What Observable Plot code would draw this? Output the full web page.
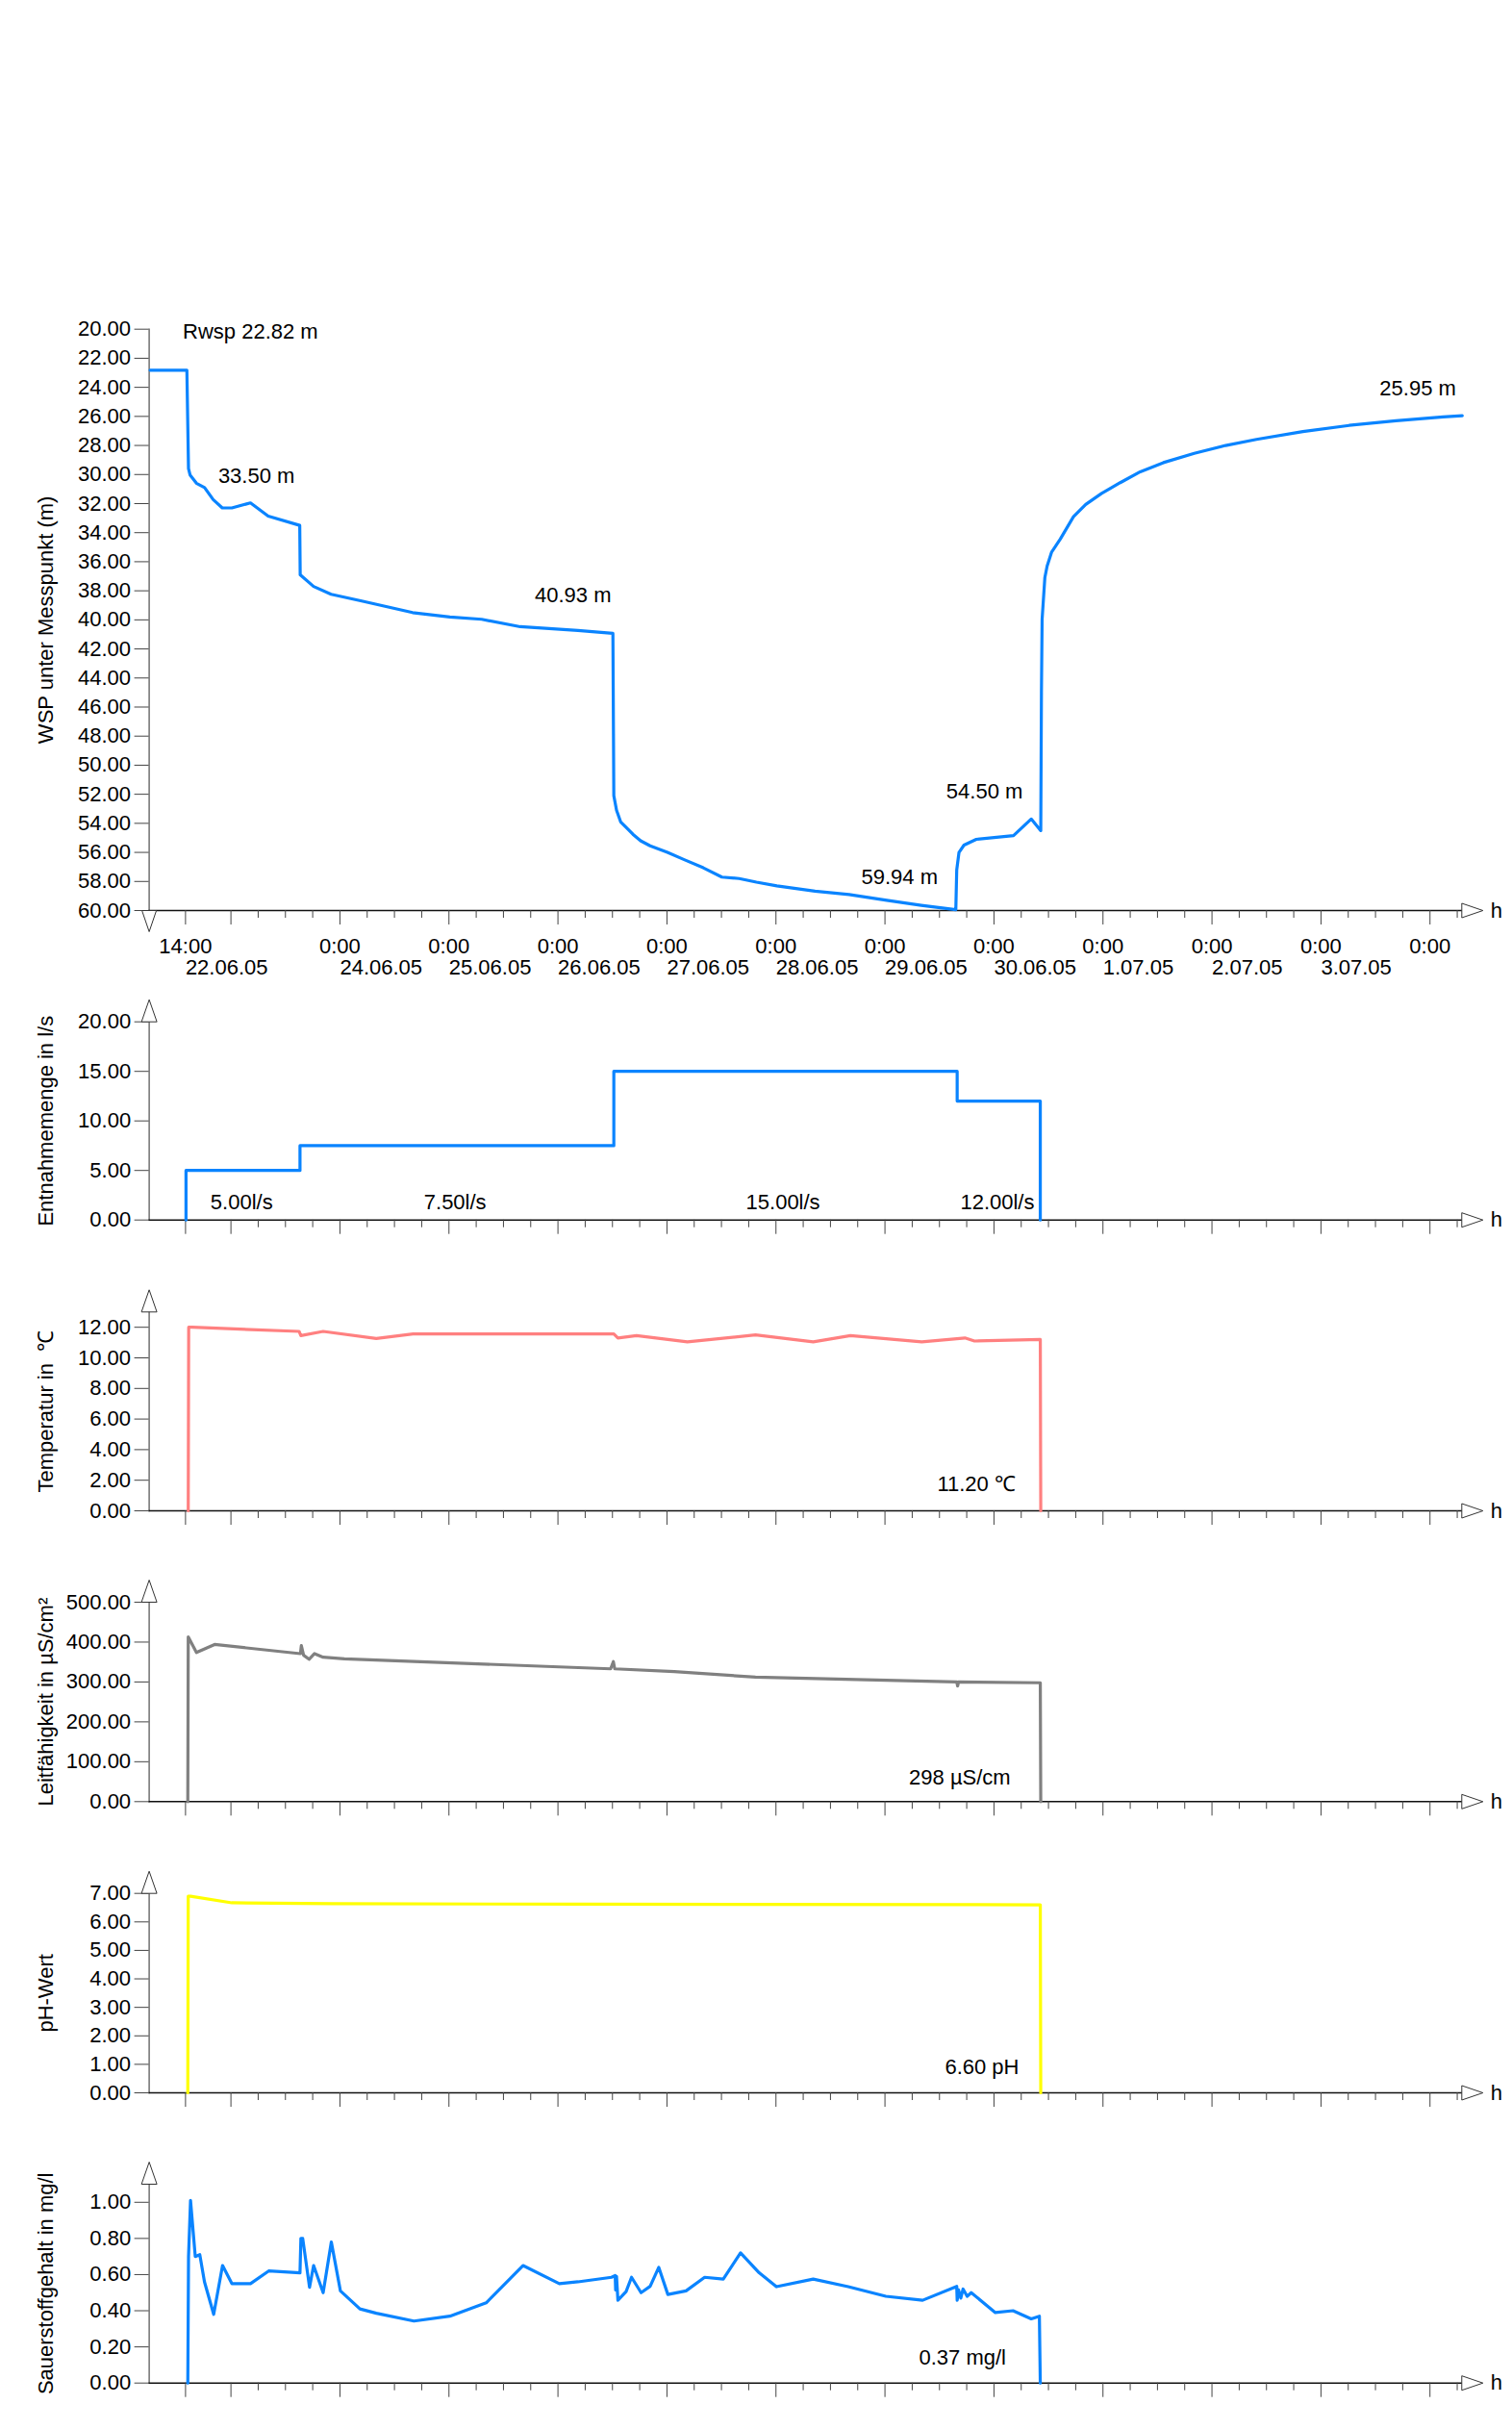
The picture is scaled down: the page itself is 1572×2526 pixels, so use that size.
<!DOCTYPE html>
<html><head><meta charset="utf-8">
<script src="https://cdn.jsdelivr.net/npm/d3@7"></script>
<script src="https://cdn.jsdelivr.net/npm/@observablehq/plot@0.6"></script>
<style>
body{margin:0;background:#fff}
#root{position:relative;width:1572px;height:2526px;background:#fff}
</style>
</head><body><div id="root"></div>
<script>
// ---- Data (time in hours since 22.06.05 00:00) ----
const wspT = [6.2, 14.3, 14.66, 15.0, 16.4, 18.2, 20.1, 22.1, 24.2, 28.3, 32.2, 39.15, 39.25, 42.2, 46.05, 52.8, 64.0, 72.2, 79.2, 87.7, 100.4, 108.1, 108.3, 108.9, 109.8, 111.4, 112.5, 114.2, 116.3, 120.1, 123.8, 128.0, 132.1, 135.9, 139.7, 144.2, 152.6, 160.1, 168.4, 176.0, 183.6, 183.8, 184.3, 185.4, 188.1, 196.3, 200.2, 202.3, 202.45, 202.6, 203.2, 203.7, 204.7, 206.6, 209.5, 212.2, 215.7, 219.8, 224.2, 229.3, 236.1, 243.0, 249.8, 260.0, 270.2, 280.5, 290.9, 295.1];
const wspV = [22.82, 22.82, 29.6, 30.03, 30.6, 30.9, 31.73, 32.3, 32.3, 31.95, 32.86, 33.5, 36.9, 37.7, 38.24, 38.7, 39.5, 39.8, 39.96, 40.47, 40.73, 40.93, 52.1, 53.1, 53.9, 54.4, 54.75, 55.2, 55.55, 56.0, 56.5, 57.06, 57.7, 57.8, 58.05, 58.3, 58.67, 58.9, 59.3, 59.64, 59.94, 57.2, 56.0, 55.5, 55.1, 54.85, 53.7, 54.5, 45.0, 39.96, 37.1, 36.3, 35.33, 34.44, 32.9, 32.06, 31.3, 30.56, 29.81, 29.18, 28.54, 28.0, 27.58, 27.04, 26.62, 26.3, 26.03, 25.95];

const flowT = [14.1, 14.1, 39.2, 108.3, 183.9, 202.2];
const flowV = [0, 5, 7.5, 15, 12, 0];

const tempT = [14.6, 14.7, 15.5, 39.0, 39.4, 44.3, 56.0, 64.1, 108.3, 109.2, 113.3, 124.5, 139.5, 152.2, 160.4, 176.1, 185.6, 187.7, 202.2, 202.3];
const tempV = [0, 12.0, 12.0, 11.73, 11.45, 11.73, 11.27, 11.56, 11.56, 11.3, 11.45, 11.05, 11.5, 11.05, 11.45, 11.05, 11.3, 11.1, 11.2, 0];

const condT = [14.5, 14.6, 16.4, 20.4, 39.3, 39.5, 40.0, 41.2, 42.4, 44.3, 49.0, 107.6, 108.2, 108.5, 121.6, 139.5, 183.8, 184.0, 184.2, 202.2, 202.3];
const condV = [0, 413, 374, 394, 371, 391, 367, 357, 371, 362, 358, 333, 351, 333, 326, 312, 300, 290, 300, 298, 0];

const phT = [14.5, 14.6, 15.1, 24.2, 46.3, 100.4, 202.2, 202.3];
const phV = [0, 6.9, 6.9, 6.67, 6.64, 6.62, 6.6, 0];

const oxyT = [14.5, 14.66, 15.1, 16.14, 17.14, 18.17, 20.2, 22.15, 24.2, 28.3, 32.3, 39.2, 39.4, 39.8, 41.3, 42.2, 44.3, 46.1, 48.1, 52.4, 56.0, 64.3, 72.2, 80.2, 88.3, 96.3, 100.4, 107.8, 108.6, 108.7, 108.9, 109.2, 111.0, 112.2, 114.3, 116.3, 118.2, 120.2, 124.2, 128.3, 132.4, 136.2, 140.3, 144.1, 152.2, 159.9, 168.2, 176.3, 183.8, 183.9, 184.2, 184.7, 185.2, 186.1, 187.0, 192.3, 196.2, 200.2, 202.0, 202.2];
const oxyV = [0, 0.70, 1.01, 0.70, 0.71, 0.56, 0.38, 0.65, 0.55, 0.55, 0.62, 0.61, 0.80, 0.80, 0.53, 0.65, 0.50, 0.78, 0.51, 0.41, 0.386, 0.343, 0.37, 0.444, 0.65, 0.55, 0.56, 0.585, 0.595, 0.515, 0.59, 0.458, 0.506, 0.585, 0.50, 0.535, 0.64, 0.49, 0.51, 0.585, 0.575, 0.72, 0.61, 0.533, 0.575, 0.533, 0.48, 0.458, 0.535, 0.458, 0.515, 0.47, 0.52, 0.48, 0.50, 0.39, 0.40, 0.355, 0.37, 0];

// annotations
const wspNoteText = ["Rwsp 22.82 m", "33.50 m", "40.93 m", "59.94 m", "54.50 m", "25.95 m"];
const wspNoteT = [13.4, 21.2, 90.9, 162.8, 181.5, 276.9];
const wspNoteV = [20.15, 30.08, 38.29, 57.72, 51.81, 24.12];
const flowNoteText = ["5.00l/s", "7.50l/s", "15.00l/s", "12.00l/s"];
const flowNoteT = [19.5, 66.5, 137.4, 184.6];
const flowNoteV = [1.8, 1.8, 1.8, 1.8];
const tempNoteText = ["11.20 \u2103"]; const tempNoteT = [179.5]; const tempNoteV = [1.72];
const condNoteText = ["298 \u00b5S/cm"]; const condNoteT = [173.3]; const condNoteV = [61];
const phNoteText = ["6.60 pH"]; const phNoteT = [181.2]; const phNoteV = [0.88];
const oxyNoteText = ["0.37 mg/l"]; const oxyNoteT = [175.5]; const oxyNoteV = [0.142];

// x tick labels
const xLabelHours = [14, 48, 72, 96, 120, 144, 168, 192, 216, 240, 264, 288];
const xTimeLabels = ["14:00", "0:00", "0:00", "0:00", "0:00", "0:00", "0:00", "0:00", "0:00", "0:00", "0:00", "0:00"];
const xDateLabels = ["22.06.05", "24.06.05", "25.06.05", "26.06.05", "27.06.05", "28.06.05", "29.06.05", "30.06.05", "1.07.05", "2.07.05", "3.07.05", ""];
const xLongTicks = [14].concat(d3.range(24, 289, 24));
const xShortTicks = d3.range(30, 295, 6).filter(h => h % 24 !== 0);

// y ticks
const wspTicks = d3.range(20, 61, 2);
const flowTicks = [0, 5, 10, 15, 20];
const tempTicks = [0, 2, 4, 6, 8, 10, 12];
const condTicks = [0, 100, 200, 300, 400, 500];
const phTicks = [0, 1, 2, 3, 4, 5, 6, 7];
const oxyTicks = [0, 0.2, 0.4, 0.6, 0.8, 1.0];

const X0 = 6, X1 = 295;
const FONT = '"Liberation Sans", Arial, Helvetica, sans-serif';

const rows = (T, V) => T.map((t, i) => ({t, v: V[i]}));
const notes = (L, T, V) => L.map((label, i) => ({label, t: T[i], v: V[i]}));

const arrowUp = {draw(c){c.moveTo(-8,0);c.lineTo(0,-23);c.lineTo(8,0);c.closePath();}};
const arrowDown = {draw(c){c.moveTo(-7.5,0);c.lineTo(0,22);c.lineTo(7.5,0);c.closePath();}};
const arrowRight = {draw(c){c.moveTo(0,-7.5);c.lineTo(22,0);c.lineTo(0,7.5);c.closePath();}};

function panel(cfg) {
  const {top, mt, fh, mb, domain, reverse = false, ticks, label, series, color, curve = "linear", note, xLabels = false} = cfg;
  const yBottom = reverse ? domain[1] : domain[0];
  const yTop = reverse ? domain[0] : domain[1];
  const marks = [
    Plot.frame({anchor: "left", stroke: "#707070", strokeWidth: 1.5}),
    Plot.frame({anchor: "bottom", stroke: "#111", strokeWidth: 1.5}),
    Plot.axisY({ticks, tickSize: 15, tickPadding: 4, tickFormat: d => d.toFixed(2), label: null, stroke: "#444"}),
    Plot.axisX({ticks: xLongTicks, tickSize: 15, tickFormat: () => "", label: null, stroke: "#444"}),
    Plot.axisX({ticks: xShortTicks, tickSize: 8, tickFormat: () => "", label: null, stroke: "#444"}),
    Plot.line(series, {x: "t", y: "v", stroke: color, strokeWidth: 3.2, curve}),
    Plot.text(note, {x: "t", y: "v", text: "label", textAnchor: "start", lineAnchor: "middle"}),
    Plot.text([label], {frameAnchor: "left", rotate: -90, dx: -107, textAnchor: "middle", lineAnchor: "middle"}),
    Plot.dot([0], {x: () => X0, y: () => reverse ? yBottom : yTop, symbol: reverse ? arrowDown : arrowUp, fill: "white", stroke: "#333", strokeWidth: 1}),
    Plot.dot([0], {x: () => X1, y: () => yBottom, symbol: arrowRight, fill: "white", stroke: "#333", strokeWidth: 1}),
    Plot.text(["h"], {frameAnchor: "bottom-right", dx: 30, textAnchor: "start", lineAnchor: "middle"})
  ];
  if (xLabels) {
    marks.push(Plot.text(xLabelHours, {x: d => d, text: (d, i) => xTimeLabels[i], frameAnchor: "bottom", dy: 44, textAnchor: "middle", lineAnchor: "bottom"}));
    marks.push(Plot.text(xLabelHours, {x: d => d, text: (d, i) => xDateLabels[i], frameAnchor: "bottom", dy: 66.7, textAnchor: "start", lineAnchor: "bottom"}));
  }
  const svg = Plot.plot({
    width: 1572,
    height: mt + fh + mb,
    marginTop: mt,
    marginBottom: mb,
    marginLeft: 154.6,
    marginRight: 1572 - 1519.3,
    x: {domain: [X0, X1]},
    y: {domain, reverse},
    style: {fontSize: "22px", fontFamily: FONT, background: "transparent", overflow: "visible", color: "#000"},
    marks
  });
  const div = document.createElement("div");
  div.style.cssText = `position:absolute;left:0;top:${top}px;width:1572px;`;
  div.append(svg);
  document.getElementById("root").append(div);
}

panel({top: 0, mt: 341.7, fh: 604.3, mb: 80, domain: [20, 60], reverse: true, ticks: wspTicks,
  label: "WSP unter Messpunkt (m)", series: rows(wspT, wspV), color: "#0a84ff",
  note: notes(wspNoteText, wspNoteT, wspNoteV), xLabels: true});
panel({top: 1020, mt: 41.7, fh: 206, mb: 30, domain: [0, 20], ticks: flowTicks,
  label: "Entnahmemenge in l/s", series: rows(flowT, flowV), color: "#0a84ff", curve: "step-after",
  note: notes(flowNoteText, flowNoteT, flowNoteV)});
panel({top: 1320, mt: 43.3, fh: 206.7, mb: 30, domain: [0, 13], ticks: tempTicks,
  label: "Temperatur in  \u2103", series: rows(tempT, tempV), color: "#ff8080",
  note: notes(tempNoteText, tempNoteT, tempNoteV)});
panel({top: 1620, mt: 45, fh: 207.3, mb: 30, domain: [0, 500], ticks: condTicks,
  label: "Leitf\u00e4higkeit in \u00b5S/cm\u00b2", series: rows(condT, condV), color: "#808080",
  note: notes(condNoteText, condNoteT, condNoteV)});
panel({top: 1925, mt: 42.7, fh: 207.3, mb: 30, domain: [0, 7], ticks: phTicks,
  label: "pH-Wert", series: rows(phT, phV), color: "#ffff00",
  note: notes(phNoteText, phNoteT, phNoteV)});
panel({top: 2225, mt: 45, fh: 206.7, mb: 40, domain: [0, 1.1], ticks: oxyTicks,
  label: "Sauerstoffgehalt in mg/l", series: rows(oxyT, oxyV), color: "#0a84ff",
  note: notes(oxyNoteText, oxyNoteT, oxyNoteV)});
</script>
</body></html>
